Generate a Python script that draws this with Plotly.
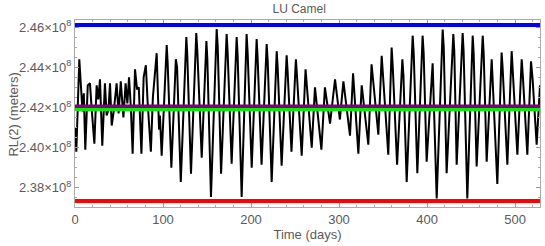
import plotly.graph_objects as go

# Time (days) and RL(2) values (in units of 1e6 m)
days = [0, 1.5, 4.9, 7, 8.5, 10, 11.7, 14.5, 17, 19, 22, 24.6, 26.5, 28.4, 31, 34, 36, 38,
        39.8, 41.7, 44, 47.3, 49.5, 52, 55, 57.5, 59.5, 61.4, 63.5, 65.5, 68.2, 70.5, 72.5,
        75.5, 78, 80.5, 82.5, 86.2, 88.5, 92.8, 95.5, 96.5, 98.5, 104.2, 105.3, 109.5, 114.6,
        116, 120.2, 126.5, 127.6, 131.8, 137.8, 139, 144, 149.3, 150.4, 154.5, 161, 162.2,
        166, 172.3, 173.4, 178, 183.7, 184.8, 189.4, 195, 196.2, 200.8, 206.4, 207.5, 212,
        217.8, 219, 223.5, 229.2, 230.3, 234.8, 240.5, 241.6, 246, 251, 252.2, 257.6, 262,
        269, 272.7, 280, 284, 289.8, 295.5, 301, 305, 312.5, 316, 322, 325.8, 333.3, 337,
        344.7, 348.5, 356, 359.8, 361, 366, 372, 373.2, 376.9, 383.7, 384.9, 389, 395, 396.2,
        399.6, 406.4, 411, 417.8, 419, 422.3, 429.9, 431, 433.7, 440.5, 441.6, 445.8, 451.9,
        453, 456.4, 463.3, 464.4, 467.8, 473.5, 479.9, 484.8, 486, 491.3, 496.2, 497.4, 502.7,
        507.6, 509, 514, 518.2, 520, 524.6, 528.4]
rl2 = [241.0, 239.8, 244.4, 242.6, 241.8, 242.7, 239.9, 243.1, 243.2, 241.9, 240.2, 243.1,
       242.4, 243.4, 240.1, 243.2, 241.6, 241.9, 243.2, 241.1, 241.8, 243.2, 241.7, 243.3,
       241.5, 243.2, 242.2, 243.5, 242.0, 239.7, 243.9, 242.9, 243.0, 239.7, 243.5, 244.1,
       242.3, 239.8, 242.5, 244.7, 240.9, 241.6, 239.6, 245.1, 244.2, 239.0, 244.4, 244.0,
       238.3, 245.5, 244.6, 238.7, 245.7, 244.8, 239.5, 245.3, 244.4, 237.55, 245.9, 245.0,
       238.7, 245.65, 244.8, 239.2, 245.5, 244.6, 237.55, 245.65, 244.7, 239.0, 245.4, 244.5,
       239.15, 245.15, 244.3, 238.3, 244.8, 244.0, 239.1, 244.6, 243.8, 239.8, 244.4, 243.6,
       239.6, 243.9, 240.0, 243.0, 239.9, 243.0, 241.2, 243.4, 241.4, 243.3, 240.6, 243.7,
       239.7, 243.1, 240.15, 244.15, 240.65, 244.57, 239.65, 244.98, 244.1, 239.15, 244.4,
       243.6, 238.3, 245.57, 244.7, 238.73, 245.57, 244.7, 239.3, 244.2, 237.48, 245.87,
       245.0, 238.73, 245.65, 244.8, 239.15, 245.7, 244.8, 237.48, 245.57, 244.7, 239.07,
       245.57, 244.7, 239.3, 244.4, 238.2, 244.73, 243.9, 239.15, 244.8, 243.9, 239.65,
       244.4, 243.5, 239.65, 244.3, 243.4, 240.15, 243.1]

# Reference levels (meters)
level_blue = 2.461e8
level_purple = 2.4205e8
level_green = 2.419e8
level_red = 2.3735e8

y_ticks = [2.38e8, 2.40e8, 2.42e8, 2.44e8, 2.46e8]
y_tick_labels = ["2.38×10<sup>8</sup>", "2.40×10<sup>8</sup>", "2.42×10<sup>8</sup>",
                 "2.44×10<sup>8</sup>", "2.46×10<sup>8</sup>"]
x_ticks = [0, 100, 200, 300, 400, 500]

fig = go.Figure()
fig.add_trace(go.Scatter(x=days, y=[v * 1e6 for v in rl2], mode="lines",
                         line=dict(color="black", width=2), showlegend=False))

for lvl, col, w in [(level_blue, "#0000ff", 4), (level_red, "#ff0000", 4),
                    (level_purple, "#800080", 4), (level_green, "#00ee00", 3)]:
    fig.add_shape(type="line", xref="x domain", yref="y", x0=0, x1=1, y0=lvl, y1=lvl,
                  line=dict(color=col, width=w), layer="above")

grey = "#5a5a5a"
fig.add_annotation(text="RL(2) (meters)", xref="paper", yref="paper", x=-0.133, y=0.495,
                   xanchor="center", yanchor="middle", textangle=-90, showarrow=False,
                   font=dict(size=13, color=grey))

fig.update_layout(
    width=545, height=246,
    margin=dict(l=75, r=5, t=20, b=39),
    paper_bgcolor="white", plot_bgcolor="white",
    font=dict(family="Liberation Sans, Arial, sans-serif", size=13, color=grey),
    title=dict(text="LU Camel", x=0.549, xanchor="center", y=0.966, yanchor="middle",
               font=dict(size=12, color=grey)),
    xaxis=dict(range=[0, 528.4], tickvals=x_ticks, ticks="inside", ticklen=4,
               tickcolor="#999999", showgrid=False, zeroline=False, showline=True,
               linecolor="#aaaaaa", linewidth=1, mirror="allticks", automargin=False,
               minor=dict(dtick=20, ticks="inside", ticklen=2, tickcolor="#aaaaaa"),
               title=dict(text="Time (days)", standoff=4, font=dict(size=13, color=grey)),
               tickfont=dict(size=13, color=grey)),
    yaxis=dict(range=[2.3705e8, 2.4635e8], tickvals=y_ticks, ticktext=y_tick_labels,
               ticks="inside", ticklen=4, tickcolor="#999999", showgrid=False,
               zeroline=False, showline=True, linecolor="#aaaaaa", linewidth=1,
               mirror="allticks", automargin=False,
               minor=dict(dtick=0.005e8, ticks="inside", ticklen=2, tickcolor="#aaaaaa"),
               tickfont=dict(size=13, color=grey)),
)

fig.write_html("out.html", config={"displayModeBar": False},
               post_script="document.body.style.margin='0px';document.body.style.padding='0px';")
